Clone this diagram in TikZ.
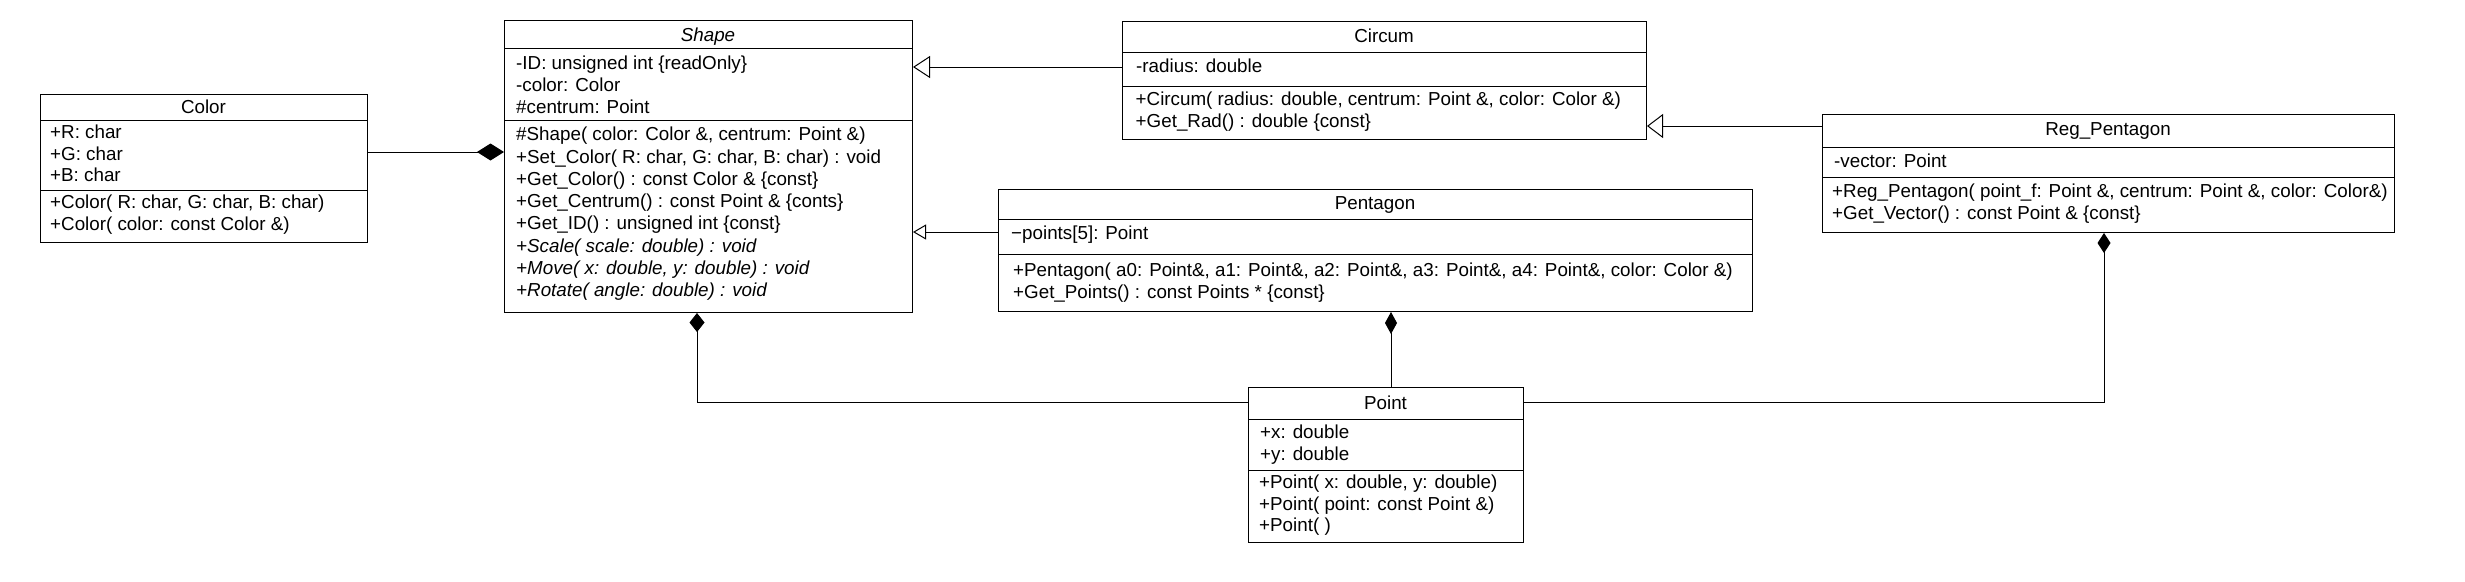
\documentclass[tikz,border=0pt]{standalone}
\usepackage{fontspec}
\setmainfont{Liberation Sans}
\usetikzlibrary{arrows.meta}
\tikzset{
  classbox/.style={draw, line width=1pt, inner sep=0pt, anchor=north west},
  txt/.style={anchor=base west, inner sep=0pt, font=\fontsize{18.8}{22}\selectfont},
  ttl/.style={anchor=base, inner sep=0pt, font=\fontsize{18.8}{22}\selectfont},
  sepline/.style={line width=1pt},
  conn/.style={line width=1pt},
}
\begin{document}
\begin{tikzpicture}[x=1pt,y=-1pt]
\useasboundingbox (0,0) rectangle (2465,581);
\fill[white] (0,0) rectangle (2465,581);

% ---------- Color ----------
\node[classbox, minimum width=327pt, minimum height=148pt] (color) at (40,94) {};
\draw[sepline] (color.west |- 0,120) -- (color.east |- 0,120);
\draw[sepline] (color.west |- 0,190) -- (color.east |- 0,190);
\node[ttl] (colorT) at (203.5,113.3) {Color};
\node[txt] (colorA1) at (50,138.3) {+R: char};
\node[txt] (colorA2) at (50,160) {+G: char};
\node[txt] (colorA3) at (50,181.7) {+B: char};
\node[txt] (colorO1) at (50,208.3) {+Color( R: char, G: char, B: char)};
\node[txt] (colorO2) at (50,230) {+Color( color: const Color \&)};

% ---------- Shape ----------
\node[classbox, minimum width=408pt, minimum height=292pt] (shape) at (504,20) {};
\draw[sepline] (shape.west |- 0,48) -- (shape.east |- 0,48);
\draw[sepline] (shape.west |- 0,120) -- (shape.east |- 0,120);
\node[ttl] (shapeT) at (708,41) {\itshape Shape};
\node[txt] (shapeA1) at (516,69.3) {-ID: unsigned int \{readOnly\}};
\node[txt] (shapeA2) at (516,91.3) {-color: Color};
\node[txt] (shapeA3) at (516,113.3) {\#centrum: Point};
\node[txt] (shapeO1) at (516,140.7) {\#Shape( color: Color \&, centrum: Point \&)};
\node[txt] (shapeO2) at (516,163) {+Set\_Color( R: char, G: char, B: char) : void};
\node[txt] (shapeO3) at (516,185.3) {+Get\_Color() : const Color \& \{const\}};
\node[txt] (shapeO4) at (516,207.6) {+Get\_Centrum() : const Point \& \{conts\}};
\node[txt] (shapeO5) at (516,229.9) {+Get\_ID() : unsigned int \{const\}};
\node[txt] (shapeO6) at (516,252.2) {\itshape +Scale( scale: double) : void};
\node[txt] (shapeO7) at (516,274.5) {\itshape +Move( x: double, y: double) : void};
\node[txt] (shapeO8) at (516,296.8) {\itshape +Rotate( angle: double) : void};

% ---------- Circum ----------
\node[classbox, minimum width=524pt, minimum height=118.3pt] (circum) at (1122,20.7) {};
\draw[sepline] (circum.west |- 0,52) -- (circum.east |- 0,52);
\draw[sepline] (circum.west |- 0,86) -- (circum.east |- 0,86);
\node[ttl] (circumT) at (1384,42.7) {Circum};
\node[txt] (circumA1) at (1136,72.7) {-radius: double};
\node[txt] (circumO1) at (1135.5,105) {+Circum( radius: double, centrum: Point \&, color: Color \&)};
\node[txt] (circumO2) at (1135.5,127.7) {+Get\_Rad() : double \{const\}};

% ---------- Reg_Pentagon ----------
\node[classbox, minimum width=572pt, minimum height=118pt] (regpent) at (1822,114) {};
\draw[sepline] (regpent.west |- 0,147) -- (regpent.east |- 0,147);
\draw[sepline] (regpent.west |- 0,177.5) -- (regpent.east |- 0,177.5);
\node[ttl] (regpentT) at (2108,135.7) {Reg\_Pentagon};
\node[txt] (regpentA1) at (1834,167.7) {-vector: Point};
\node[txt] (regpentO1) at (1832,197.3) {+Reg\_Pentagon( point\_f: Point \&, centrum: Point \&, color: Color\&)};
\node[txt] (regpentO2) at (1832,219.3) {+Get\_Vector() : const Point \& \{const\}};

% ---------- Pentagon ----------
\node[classbox, minimum width=754pt, minimum height=122pt] (pentagon) at (998,189) {};
\draw[sepline] (pentagon.west |- 0,219) -- (pentagon.east |- 0,219);
\draw[sepline] (pentagon.west |- 0,254) -- (pentagon.east |- 0,254);
\node[ttl] (pentagonT) at (1375,209.3) {Pentagon};
\node[txt] (pentagonA1) at (1011,239) {−points[5]: Point};
\node[txt] (pentagonO1) at (1013,276) {+Pentagon( a0: Point\&, a1: Point\&, a2: Point\&, a3: Point\&, a4: Point\&, color: Color \&)};
\node[txt] (pentagonO2) at (1013,298.3) {+Get\_Points() : const Points * \{const\}};

% ---------- Point ----------
\node[classbox, minimum width=275pt, minimum height=155pt] (point) at (1248,387) {};
\draw[sepline] (point.west |- 0,419) -- (point.east |- 0,419);
\draw[sepline] (point.west |- 0,470) -- (point.east |- 0,470);
\node[ttl] (pointT) at (1385.5,409.3) {Point};
\node[txt] (pointA1) at (1260,438.3) {+x: double};
\node[txt] (pointA2) at (1260,460) {+y: double};
\node[txt] (pointO1) at (1259,488.3) {+Point( x: double, y: double)};
\node[txt] (pointO2) at (1259,510.5) {+Point( point: const Point \&)};
\node[txt] (pointO3) at (1259,531.7) {+Point( )};

% ---------- connectors ----------
% composition Color -> Shape
\draw[conn, -{Diamond[length=27pt,width=17pt,fill=black]}] (color.east |- 0,152) -- (shape.west |- 0,152);
% generalizations
\draw[conn, -{Triangle[open,length=17pt,width=22pt,fill=white]}] (circum.west |- 0,67) -- (shape.east |- 0,67);
\draw[conn, -{Triangle[open,length=13pt,width=15pt,fill=white]}] (pentagon.west |- 0,232) -- (shape.east |- 0,232);
\draw[conn, -{Triangle[open,length=16pt,width=24pt,fill=white]}] (regpent.west |- 0,126) -- (circum.east |- 0,126);
% compositions with Point
\draw[conn, -{Diamond[length=19pt,width=15pt,fill=black]}] (point.west |- 0,402) -| (shape.south -| 697,0);
\draw[conn, -{Diamond[length=22pt,width=12pt,fill=black]}] (point.north -| 1391,0) -- (pentagon.south -| 1391,0);
\draw[conn, -{Diamond[length=20pt,width=13pt,fill=black]}] (point.east |- 0,402) -| (regpent.south -| 2104,0);
\end{tikzpicture}
\end{document}
